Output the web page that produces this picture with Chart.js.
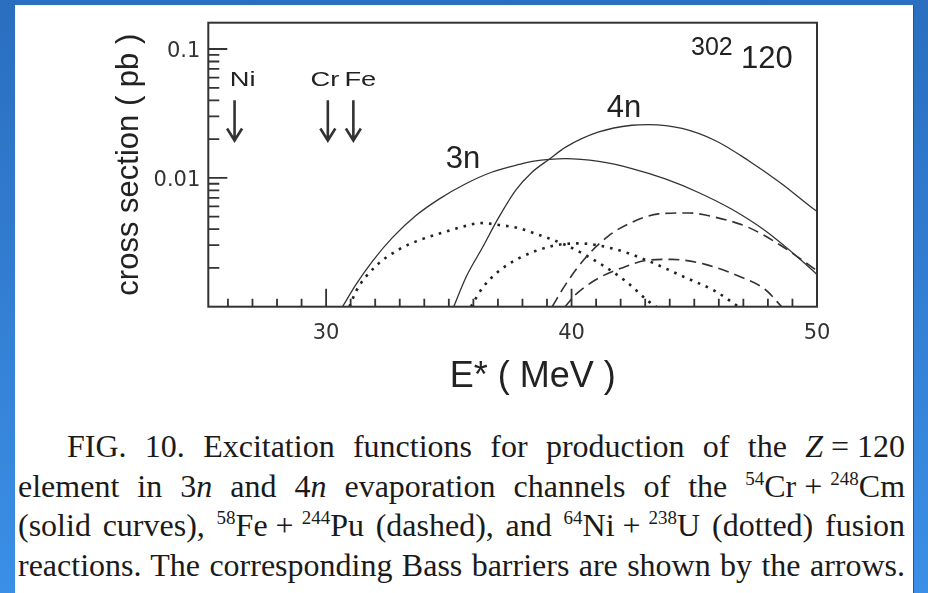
<!DOCTYPE html>
<html lang="en">
<head>
  <meta charset="UTF-8" />
  <title>Excitation functions, Z = 120</title>
  <script src="https://cdn.jsdelivr.net/npm/chart.js"></script>
  <style>
    body {
      margin: 0;
      width: 928px;
      height: 593px;
      overflow: hidden;
      position: relative;
      background: linear-gradient(to bottom, #2a6ebf 0%, #3b8fe6 100%);
      font-family: 'Liberation Sans', Arial, sans-serif;
    }

    #panel {
      position: absolute;
      left: 15px;
      top: 5px;
      width: 898px;
      height: 588px;
      background: #fff;
      border-right: 1px solid #1f5596;
    }

    #chart {
      position: absolute;
      left: 0;
      top: 0;
    }

    #caption {
      position: absolute;
      left: 18px;
      top: 427px;
      width: 887px;
      font-family: 'Liberation Serif', 'Times New Roman', serif;
      font-size: 32px;
      line-height: 39.5px;
      color: #1a1a1a;
    }

    #caption div {
      text-align: justify;
      text-align-last: justify;
    }

    #caption .first {
      text-indent: 49px;
    }

    #caption sup {
      font-size: 19px;
      line-height: 0;
      vertical-align: baseline;
      position: relative;
      top: -12px;
    }
  </style>
</head>
<body>
  <div id="panel"></div>
  <canvas id="chart" width="928" height="420"></canvas>

  <div id="caption">
    <div class="first">FIG. 10. Excitation functions for production of the <i>Z</i>&#8197;=&#8197;120</div>
    <div>element in 3<i>n</i> and 4<i>n</i> evaporation channels of the <sup>54</sup>Cr&#8197;+&#8197;<sup>248</sup>Cm</div>
    <div>(solid curves), <sup>58</sup>Fe&#8197;+&#8197;<sup>244</sup>Pu (dashed), and <sup>64</sup>Ni&#8197;+&#8197;<sup>238</sup>U (dotted) fusion</div>
    <div>reactions. The corresponding Bass barriers are shown by the arrows.</div>
  </div>

  <script>
    // excitation energy E* (MeV) and cross section (pb)
    const cr3nE = [30.67, 31.22, 31.9, 32.71, 33.66, 34.6, 35.69, 36.77, 37.86, 38.4, 39.76, 41.11, 42.46, 43.82, 45.17, 46.53, 47.88, 49.24, 50.0];
    const cr3nSigma = [0.001, 0.00149, 0.00227, 0.00345, 0.0051, 0.00684, 0.009, 0.0111, 0.0127, 0.0134, 0.0141, 0.0134, 0.0118, 0.0098, 0.0077, 0.0057, 0.0039, 0.0024, 0.00178];

    const cr4nE = [35.2, 35.69, 36.37, 37.04, 37.72, 38.4, 39.08, 39.76, 41.11, 42.46, 43.14, 44.5, 45.85, 47.2, 48.56, 49.85, 50.0];
    const cr4nSigma = [0.001, 0.00168, 0.00288, 0.00495, 0.008, 0.0111, 0.0139, 0.0173, 0.0227, 0.0256, 0.0259, 0.0242, 0.0195, 0.01365, 0.009, 0.00575, 0.0055];

    const fe3nE = [39.21, 39.76, 40.57, 41.52, 42.46, 43.55, 44.77, 45.85, 47.2, 48.56, 50.0];
    const fe3nSigma = [0.001, 0.00149, 0.0024, 0.00356, 0.00452, 0.00525, 0.00534, 0.00495, 0.00413, 0.00296, 0.0019];

    const fe4nE = [39.7, 40.16, 41.11, 42.06, 43.14, 44.09, 45.45, 46.8, 47.89, 48.6];
    const fe4nSigma = [0.00098, 0.00124, 0.00167, 0.002, 0.0023, 0.00233, 0.00213, 0.00173, 0.00136, 0.00098];

    const ni3nE = [30.95, 31.22, 32.03, 32.98, 33.79, 34.74, 35.69, 36.3, 37.04, 37.86, 38.4, 39.76, 41.11, 42.2, 43.14, 43.45];
    const ni3nSigma = [0.001, 0.00132, 0.00207, 0.00279, 0.00328, 0.00376, 0.00424, 0.00446, 0.00431, 0.00407, 0.00376, 0.00301, 0.00219, 0.00158, 0.0011, 0.001];

    const ni4nE = [35.9, 36.37, 37.04, 37.86, 39.21, 40.3, 41.79, 43.14, 44.5, 45.85, 46.67, 46.85];
    const ni4nSigma = [0.001, 0.0014, 0.00189, 0.00238, 0.00296, 0.0031, 0.00279, 0.00226, 0.00173, 0.00132, 0.00104, 0.00098];

    // Bass barriers (arrows)
    const barrierNames = ['Ni', 'Cr', 'Fe'];
    const barrierE = [26.27, 30.07, 31.11];

    // axes
    const xTickLabels = [30, 40, 50];
    const xMinorTicks = [26, 27, 28, 29, 31, 32, 33, 34, 35, 36, 37, 38, 39, 41, 42, 43, 44, 45, 46, 47, 48, 49];
    const yTickLabels = [0.01, 0.1];
    const yMinorTicks = [0.002, 0.003, 0.004, 0.005, 0.006, 0.007, 0.008, 0.009, 0.02, 0.03, 0.04, 0.05, 0.06, 0.07, 0.08, 0.09];

    const pts = (xs, ys) => xs.map((v, i) => ({ x: v, y: ys[i] }));

    function stretchText(ctx, str, x, y, font, sx, align) {
      ctx.save();
      ctx.font = font;
      ctx.textAlign = align;
      ctx.textBaseline = 'alphabetic';
      ctx.translate(x, y);
      ctx.scale(sx, 1);
      ctx.fillText(str, 0, 0);
      ctx.restore();
    }

    const decor = {
      id: 'decor',
      afterDatasetsDraw(chart) {
        const { ctx, chartArea: a, scales: { x, y } } = chart;
        ctx.save();
        ctx.strokeStyle = '#333';
        ctx.fillStyle = '#222';

        // inward tick marks
        ctx.lineWidth = 1.8;
        ctx.beginPath();
        xMinorTicks.forEach(v => {
          const px = x.getPixelForValue(v);
          ctx.moveTo(px, a.bottom);
          ctx.lineTo(px, a.bottom - 8);
        });
        xTickLabels.forEach(v => {
          const px = x.getPixelForValue(v);
          ctx.moveTo(px, a.bottom);
          ctx.lineTo(px, a.bottom - 18);
        });
        yMinorTicks.forEach(v => {
          const py = y.getPixelForValue(v);
          ctx.moveTo(a.left, py);
          ctx.lineTo(a.left + 11, py);
        });
        yTickLabels.forEach(v => {
          const py = y.getPixelForValue(v);
          ctx.moveTo(a.left, py);
          ctx.lineTo(a.left + 19, py);
        });
        ctx.stroke();

        // frame
        ctx.lineWidth = 2;
        ctx.strokeRect(a.left, a.top, a.right - a.left, a.bottom - a.top);

        // arrows for the Bass barriers
        const yTop = y.getPixelForValue(0.04);
        const yTip = y.getPixelForValue(0.0195);
        ctx.lineWidth = 2.6;
        barrierE.forEach(e => {
          const px = x.getPixelForValue(e);
          ctx.beginPath();
          ctx.moveTo(px, yTop);
          ctx.lineTo(px, yTip);
          ctx.moveTo(px - 7.5, yTip - 12);
          ctx.lineTo(px, yTip);
          ctx.lineTo(px + 7.5, yTip - 12);
          ctx.stroke();
        });

        const labelDx = [8, -3, 7];
        barrierNames.forEach((n, i) => {
          const px = x.getPixelForValue(barrierE[i]) + labelDx[i];
          stretchText(ctx, n, px, 86, '21px "Liberation Sans", Arial, sans-serif', 1.3, 'center');
        });

        // channel labels and the compound nucleus
        stretchText(ctx, '3n', 463, 168, '31px "Liberation Sans", Arial, sans-serif', 1, 'center');
        stretchText(ctx, '4n', 624, 117, '31px "Liberation Sans", Arial, sans-serif', 1, 'center');
        stretchText(ctx, '302', 691, 55, '25px "Liberation Sans", Arial, sans-serif', 1, 'left');
        stretchText(ctx, '120', 741, 68, '31px "Liberation Sans", Arial, sans-serif', 1, 'left');
        ctx.restore();
      }
    };

    const solid = { borderColor: '#333', borderWidth: 1.3 };
    const dashed = { borderColor: '#333', borderWidth: 1.6, borderDash: [11, 6] };
    const dotted = { borderColor: '#222', borderWidth: 2.6, borderDash: [2.6, 6] };

    const chart = new Chart(document.getElementById('chart').getContext('2d'), {
      type: 'line',
      data: {
        datasets: [
          { label: 'Cr 3n', data: pts(cr3nE, cr3nSigma), ...solid },
          { label: 'Cr 4n', data: pts(cr4nE, cr4nSigma), ...solid },
          { label: 'Fe 3n', data: pts(fe3nE, fe3nSigma), ...dashed },
          { label: 'Fe 4n', data: pts(fe4nE, fe4nSigma), ...dashed },
          { label: 'Ni 3n', data: pts(ni3nE, ni3nSigma), ...dotted },
          { label: 'Ni 4n', data: pts(ni4nE, ni4nSigma), ...dotted }
        ]
      },
      options: {
        responsive: false,
        animation: false,
        events: [],
        devicePixelRatio: 1,
        layout: { padding: { top: 22.7, right: 111, left: 0, bottom: 0 } },
        elements: {
          point: { radius: 0 },
          line: { cubicInterpolationMode: 'monotone', fill: false }
        },
        plugins: {
          legend: { display: false },
          tooltip: { enabled: false }
        },
        scales: {
          x: {
            type: 'linear',
            min: 25.2,
            max: 50,
            afterFit: s => { s.height = 113.3; },
            afterBuildTicks: s => { s.ticks = xTickLabels.map(v => ({ value: v })); },
            grid: { display: false, drawTicks: false },
            border: { display: false },
            ticks: {
              padding: 14,
              color: '#333',
              font: { family: '"DejaVu Sans", sans-serif', size: 21 },
              callback: v => String(v)
            },
            title: {
              display: true,
              text: '    E* ( MeV )',
              color: '#222',
              font: { family: '"Liberation Sans", Arial, sans-serif', size: 36 },
              padding: { top: 0, bottom: 21 }
            }
          },
          y: {
            type: 'logarithmic',
            min: 0.001,
            max: 0.16,
            afterFit: s => { s.width = 208.3; },
            afterBuildTicks: s => { s.ticks = yTickLabels.map(v => ({ value: v })); },
            grid: { display: false, drawTicks: false },
            border: { display: false },
            ticks: {
              padding: 8,
              labelOffset: 3,
              color: '#333',
              font: { family: '"DejaVu Sans", sans-serif', size: 21 },
              callback: v => String(v)
            },
            title: {
              display: true,
              text: 'cross section ( pb )',
              color: '#222',
              font: { family: '"Liberation Sans", Arial, sans-serif', size: 31 },
              padding: { top: 111, bottom: 0 }
            }
          }
        }
      },
      plugins: [decor]
    });
  </script>
</body>
</html>
